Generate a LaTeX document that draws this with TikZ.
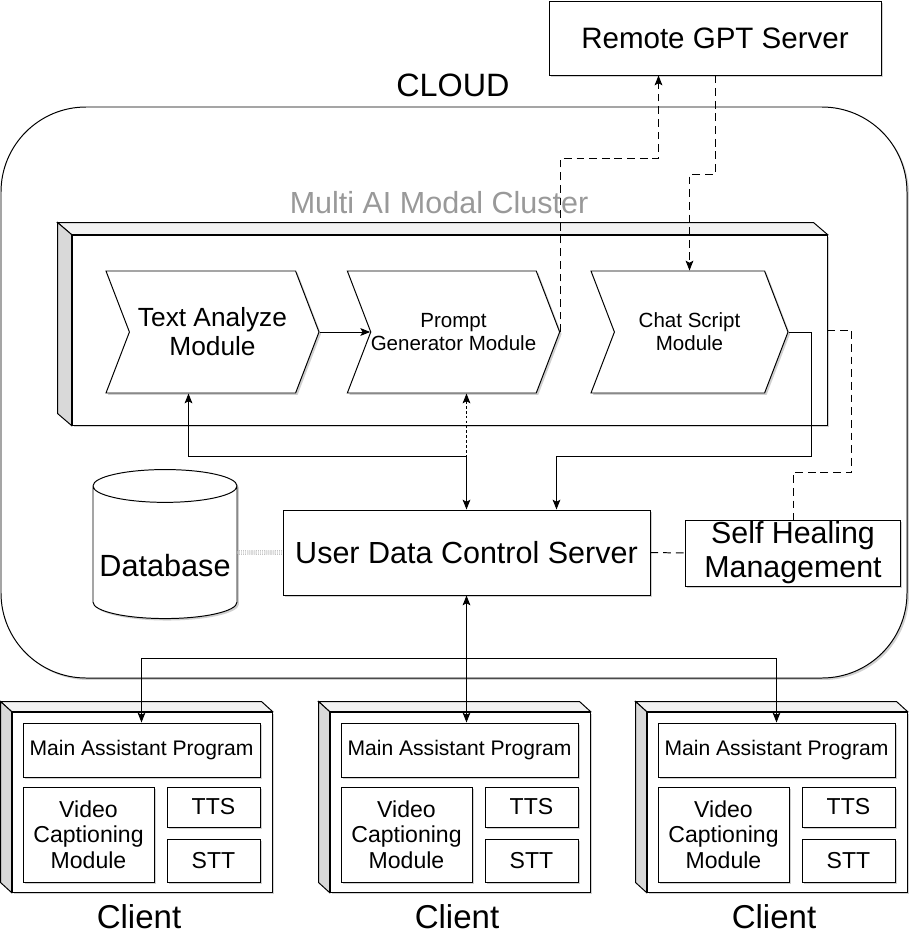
\documentclass[tikz,border=0pt]{standalone}
\usepackage{fontspec}
\setmainfont{Liberation Sans}
\usetikzlibrary{shapes.geometric,shapes.symbols,arrows.meta,positioning,calc,shadows}
\newcommand{\pxu}{0.025cm}

\tikzset{
  shd/.style={drop shadow={shadow xshift=1.4pt,shadow yshift=-1.4pt,opacity=.3,fill=black!60}},
  box/.style={draw, fill=white, line width=0.7pt, inner sep=0pt, shd},
  chev/.style={box, signal, signal from=west, signal to=east, signal pointer angle=138, minimum height=122*\pxu, align=center},
  topface/.style={draw, fill=black!5, line width=0.7pt},
  sideface/.style={draw, fill=black!15, line width=0.7pt},
  conn/.style={line width=0.7pt},
  tip/.tip={Stealth[length=7pt,width=5.5pt,inset=1.5pt]},
  arr/.style={conn, -tip},
  biarr/.style={conn, tip-tip},
  dashln/.style={conn, dash pattern=on 5.5pt off 3.5pt},
  dasharr/.style={dashln, -tip},
  dotarr/.style={conn, dash pattern=on 2pt off 1.5pt, tip-},
  dbln/.style={draw=black!60, line width=0.35pt, densely dotted, double, double distance=2.2pt}
}

\begin{document}
\begin{tikzpicture}[x=\pxu, y=-\pxu]
    \useasboundingbox (0,0) rectangle (924,948);
    % cloud area
    \node[box, rounded corners=2.125cm, minimum width=906*\pxu, minimum height=571*\pxu] (cloud) at (454,392.5) {};
    \node[font=\fontsize{23}{26}\selectfont] (cloudlbl) at (453,85) {CLOUD};
    \node[box, minimum width=332*\pxu, minimum height=74*\pxu, font=\fontsize{21}{25}\selectfont] (gpt) at (715,38) {Remote GPT Server};
    \node[font=\fontsize{21.7}{24}\selectfont, text=black!40] (clusterlbl) at (439,203) {Multi AI Modal Cluster};

    % cluster cube
    \node[box, minimum width=755*\pxu, minimum height=190*\pxu] (clf) at (449.5,330) {};
    \draw[topface] (clf.north west) -- ++(-14,-12) -- ($(clf.north east)+(-14,-12)$) -- (clf.north east) -- cycle;
    \draw[sideface] (clf.north west) -- ++(-14,-12) -- ($(clf.south west)+(-14,-12)$) -- (clf.south west) -- cycle;

    \node[chev, minimum width=213*\pxu, font=\fontsize{18.7}{20.6}\selectfont] (ta) at (212.5,332) {Text Analyze\\Module};
    \node[chev, minimum width=205*\pxu, font=\fontsize{14.6}{16.4}\selectfont] (pg) at (453.5,332) {Prompt\\Generator Module};
    \node[chev, minimum width=197*\pxu, font=\fontsize{14.6}{16.4}\selectfont] (cs) at (689.5,332) {Chat Script\\Module};

    % servers
    \node[box, cylinder, shape border rotate=90, aspect=0.25, minimum width=144*\pxu, minimum height=149*\pxu, font=\fontsize{21.8}{24}\selectfont] (db) at (165,552.5) {\raisebox{-9pt}[\height][\depth]{Database}};
    \node[box, minimum width=367*\pxu, minimum height=85*\pxu, font=\fontsize{21.7}{24}\selectfont] (udcs) at (466.5,552.5) {User Data Control Server};
    \node[box, minimum width=215*\pxu, minimum height=66*\pxu, align=center, font=\fontsize{21.6}{24}\selectfont] (sh) at (793,553) {Self Healing\\Management};

    % clients
    \foreach \i/\xl in {1/12,2/330,3/647} {
        \node[box, minimum width=260*\pxu, minimum height=180*\pxu] (c\i) at ({\xl+130},802) {};
        \draw[topface] (c\i.north west) -- ++(-11,-10) -- ($(c\i.north east)+(-11,-10)$) -- (c\i.north east) -- cycle;
        \draw[sideface] (c\i.north west) -- ++(-11,-10) -- ($(c\i.south west)+(-11,-10)$) -- (c\i.south west) -- cycle;
        \node[box, minimum width=237*\pxu, minimum height=54*\pxu, font=\fontsize{15}{18}\selectfont] (m\i) at ({\xl+129.5},750) {Main Assistant Program};
        \node[box, minimum width=131*\pxu, minimum height=95*\pxu, align=center, font=\fontsize{16.4}{18}\selectfont] (v\i) at ({\xl+76.5},834.5) {Video\\Captioning\\Module};
        \node[box, minimum width=93*\pxu, minimum height=40*\pxu, font=\fontsize{16.4}{18}\selectfont] (t\i) at ({\xl+201.5},807) {TTS};
        \node[box, minimum width=93*\pxu, minimum height=43*\pxu, font=\fontsize{16.4}{18}\selectfont] (s\i) at ({\xl+201.5},860.5) {STT};
        \node[font=\fontsize{23.5}{26}\selectfont] (cl\i) at ({\xl+127},917) {Client};
    }

    % connectors
    \coordinate (jn) at ($(udcs.north)+(0,-53)$);
    \draw[arr] (ta.east) -- (pg.west);
    \draw[biarr] ($(ta.south)+(-24,0)$) |- (jn) -- (udcs.north);
    \draw[dotarr] ($(pg.south)+(13,0)$) -- (jn);
    \draw[arr] (cs.east) -- ++(23,0) |- ($(udcs.north)+(90,-53)$) -- ($(udcs.north)+(90,0)$);
    \draw[dasharr] (pg.east) |- ($(gpt.south west)+(110,83)$) -- ($(gpt.south west)+(110,0)$);
    \draw[dasharr] (gpt.south) -- ++(0,99) -| (cs.north);
    \draw[dashln] (clf.east) -- ++(24,0) |- ($(sh.north)+(0,-47)$) -- (sh.north);
    \draw[dashln] (udcs.east) -- (sh.west);
    \draw[dbln] (db.east) -- (udcs.west);
    \coordinate (hub) at ($(udcs.south)+(0,63)$);
    \draw[biarr] (udcs.south) -- (udcs.south |- m2.north);
    \draw[arr] (hub) -| (m1.north);
    \draw[arr] (hub) -| (m3.north);
\end{tikzpicture}
\end{document}
